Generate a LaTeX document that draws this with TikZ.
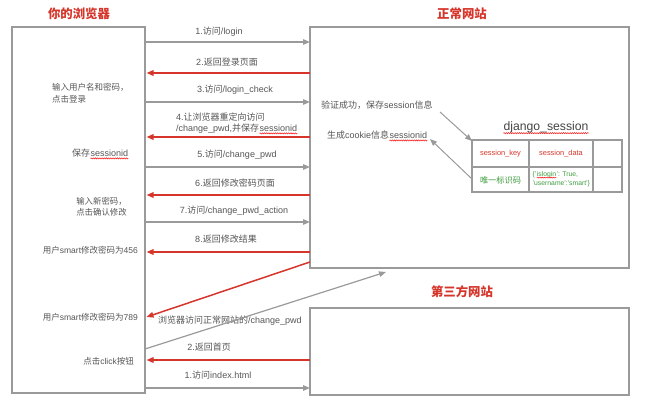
\documentclass[tikz,border=0pt]{standalone}
\usepackage{fontspec}
\setmainfont{Liberation Sans}
\newfontfamily\zh{Noto Sans CJK SC}
\newcommand\z[1]{{\zh #1}}
\usetikzlibrary{arrows.meta,calc,decorations.pathmorphing}
\definecolor{gline}{HTML}{9A9A9A}
\definecolor{rline}{HTML}{D5352A}
\definecolor{tgray}{HTML}{555555}
\definecolor{tred}{HTML}{D5352A}
\definecolor{tgreen}{HTML}{3E9B3E}
\tikzset{
 box/.style={draw=gline, line width=1.4pt, inner sep=0pt},
 garr/.style={draw=gline, line width=1.2pt, -{Triangle[length=7pt,width=5.5pt]}},
 rarr/.style={draw=rline, line width=1.5pt, -{Triangle[length=7pt,width=5.5pt]}},
 lbl/.style={text=tgray, font=\fontsize{9}{10}\selectfont, inner sep=0pt},
 slbl/.style={text=tgray, font=\fontsize{8.5}{12}\selectfont, inner sep=0pt},
 ttl/.style={text=tred, font=\fontsize{12.4}{14}\selectfont\zh\bfseries, inner sep=0pt},
 cellr/.style={text=tred, font=\fontsize{7.4}{8}\selectfont, inner sep=0pt},
 cellg/.style={text=tgreen, font=\fontsize{6.8}{8.6}\selectfont, inner sep=0pt},
 wav/.style={draw=red!90, line width=0.55pt, decorate, decoration={snake, amplitude=0.55pt, segment length=2.2pt}},
}
\begin{document}
\begin{tikzpicture}[x=1pt,y=-1pt]
\useasboundingbox (0,0) rectangle (650,409);
% boxes
\node[box, minimum width=133pt, minimum height=366pt] (browser) at (78.5,210) {};
\node[box, minimum width=319pt, minimum height=241pt] (normal) at (469.5,147.5) {};
\node[box, minimum width=319pt, minimum height=87pt] (third) at (469.5,351.5) {};
% titles
\node[ttl] (tb) at (79,14) {你的浏览器};
\node[ttl] (tn) at (462,14) {正常网站};
\node[ttl] (tt) at (462,292) {第三方网站};
% coordinates on box edges
\foreach \y in {42,73,102,137,167,195,222,252,360,388}{
  \coordinate (b\y) at (145,\y);
  \coordinate (bt\y) at (146.5,\y);
  \coordinate (n\y) at (310,\y);
}
% messages
\draw[garr] (b42) -- (n42);
\node[lbl] (m1) at (219,32) {1.\z{访问}/login};
\draw[rarr] (n73) -- (bt73);
\node[lbl] (m2) at (227,62) {2.\z{返回登录页面}};
\draw[garr] (b102) -- (n102);
\node[lbl] (m3) at (235,90) {3.\z{访问}/login\_check};
\draw[rarr] (n137) -- (bt137);
\node[lbl, anchor=west] (m4a) at (176,117) {4.\z{让浏览器重定向访问}};
\node[lbl, anchor=west] (m4b) at (176,128.5) {/change\_pwd,\z{并保存}};
\node[lbl, anchor=base west] (m4s) at (m4b.base east) {sessionid};
\draw[wav] ($(m4s.base west)+(0,2)$) -- ($(m4s.base east)+(0,2)$);
\draw[garr] (b167) -- (n167);
\node[lbl] (m5) at (237,155) {5.\z{访问}/change\_pwd};
\draw[rarr] (n195) -- (bt195);
\node[lbl] (m6) at (235,183) {6.\z{返回修改密码页面}};
\draw[garr] (b222) -- (n222);
\node[lbl] (m7) at (234,211) {7.\z{访问}/change\_pwd\_action};
\draw[rarr] (n252) -- (bt252);
\node[lbl] (m8) at (226,239) {8.\z{返回修改结果}};
% cross-site
\coordinate (nsL) at (310,262);
\coordinate (b317) at (146.5,317);
\draw[rarr] (nsL) -- (b317);
\node[lbl, anchor=west] (mx) at (158,321) {\z{浏览器访问正常网站的}/change\_pwd};
\coordinate (b349) at (145,349);
\coordinate (nsB) at (386,272);
\draw[garr] (b349) -- (nsB);
\draw[rarr] (n360) -- (bt360);
\node[lbl] (t2) at (209,347) {2.\z{返回首页}};
\draw[garr] (b388) -- (n388);
\node[lbl] (t1) at (218,375) {1.\z{访问}index.html};
% browser texts
\node[slbl, anchor=west, align=left] (s1) at (52,93) {\z{输入用户名和密码，}\\\z{点击登录}};
\node[lbl, anchor=west] (s2) at (72,153) {\z{保存}};
\node[lbl, anchor=base west] (s2s) at (s2.base east) {sessionid};
\draw[wav] ($(s2s.base west)+(0,2)$) -- ($(s2s.base east)+(0,2)$);
\node[slbl, align=left, font=\fontsize{8.4}{10.5}\selectfont] (s3) at (101.5,207) {\z{输入新密码，}\\\z{点击确认修改}};
\node[slbl, anchor=east] (s4) at (138,250) {\z{用户}smart\z{修改密码为}456};
\node[slbl, anchor=east] (s5) at (138,317) {\z{用户}smart\z{修改密码为}789};
\node[slbl, anchor=east] (s6) at (134,361) {\z{点击}click\z{按钮}};
% normal site texts
\node[lbl, anchor=west] (v1) at (321,105) {\z{验证成功，保存}session\z{信息}};
\node[lbl, anchor=west] (v2) at (327,135) {\z{生成}cookie\z{信息}};
\node[lbl, anchor=base west] (v2s) at (v2.base east) {sessionid};
\draw[wav] ($(v2s.base west)+(0,2)$) -- ($(v2s.base east)+(0,2)$);
\node[text=tgray!80!black, font=\fontsize{12.2}{13}\selectfont, inner sep=0pt] (dj) at (546,127) {django\_session};
\draw[wav] ($(dj.base west)+(0,3)$) -- ($(dj.base east)+(0,3)$);
% table
\draw[gline, line width=1.2pt] (472,140) rectangle (622,192);
\draw[gline, line width=1.2pt] (529,140) -- (529,192) (593,140) -- (593,192) (472,167) -- (622,167);
\node[cellr] (c11) at (500.5,153.5) {session\_key};
\node[cellr] (c12) at (561,153.5) {session\_data};
\node[cellg, font=\fontsize{8.2}{9}\selectfont\zh] (c21) at (500.5,180) {唯一标识码};
\node[cellg, anchor=base west] (c22a) at (532.5,176) {\{'};
\node[cellg, anchor=base west] (c22b) at (c22a.base east) {islogin};
\node[cellg, anchor=base west] (c22c) at (c22b.base east) {': True,};
\draw[wav, line width=0.45pt, decoration={snake, amplitude=0.45pt, segment length=1.8pt}] ($(c22b.base west)+(0,1.6)$) -- ($(c22b.base east)+(0,1.6)$);
\node[cellg, anchor=base west] (c22d) at (532.5,185) {'username':'smart'\}};
% table arrows
\coordinate (vEnd) at (440,112);
\coordinate (tNW) at (472,141);
\draw[garr, line width=1pt] (vEnd) -- (tNW);
\coordinate (tL) at (472,179);
\coordinate (v2E) at (430,139);
\draw[garr, line width=1pt] (tL) -- (v2E);
\end{tikzpicture}
\end{document}
